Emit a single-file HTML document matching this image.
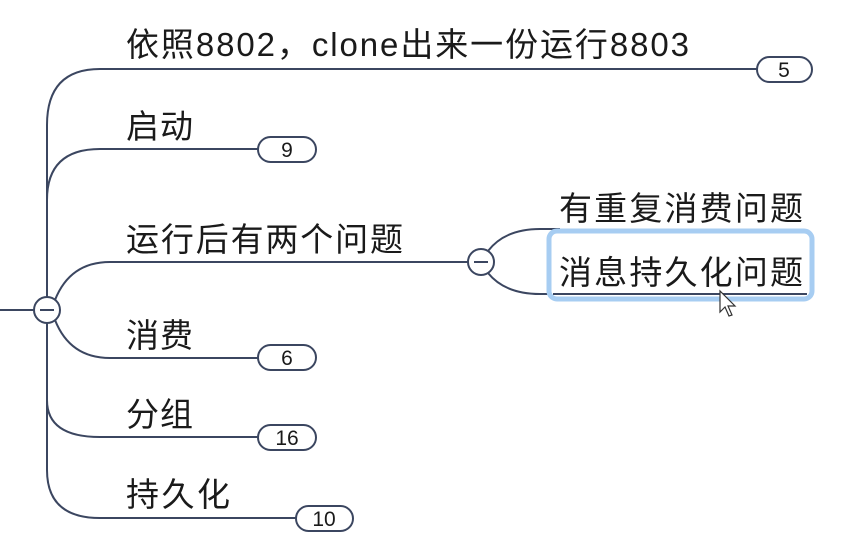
<!DOCTYPE html>
<html><head><meta charset="utf-8">
<style>
html,body{margin:0;padding:0;background:#fff;width:860px;height:557px;overflow:hidden}
svg text{font-family:"Liberation Sans","Noto Sans CJK SC",sans-serif;fill:#1a1a1a}
</style></head><body>
<svg width="860" height="557" viewBox="0 0 860 557" xmlns="http://www.w3.org/2000/svg">
<g fill="none" stroke="#3b4660" stroke-width="2">
  <path d="M120 69 L100 69 Q47 69 47 125 L47 470 Q47 518 100 518 L300 518"/>
  <path d="M0 310 L34 310"/>
  <path d="M100 69 L757 69"/>
  <path d="M47 200 Q47 149 100 149 L258 149"/>
  <path d="M47 400 Q47 437 100 437 L258 437"/>
  <path d="M55 300 Q70 262 110 262 L468 262"/>
  <path d="M55 320 Q70 358 110 358 L258 358"/>
  <rect x="757" y="57" width="55" height="25" rx="12.5" fill="#fff"/>
  <rect x="258" y="137" width="58" height="25" rx="12.5" fill="#fff"/>
  <rect x="258" y="345" width="58" height="25" rx="12.5" fill="#fff"/>
  <rect x="258" y="425" width="58" height="25" rx="12.5" fill="#fff"/>
  <rect x="296" y="506" width="57" height="25" rx="12.5" fill="#fff"/>
  <path d="M488 251 Q505 229 540 229 L560 229"/>
  <path d="M488 273 Q505 294 540 294 L560 294"/>
</g>
<rect x="549" y="231" width="263" height="68" rx="8" fill="#fff" stroke="#a7cdf2" stroke-width="5"/>
<line x1="553" y1="294" x2="807" y2="294" stroke="#3b4660" stroke-width="2"/>
<circle cx="47" cy="310" r="13" fill="#fff" stroke="#3b4660" stroke-width="2"/>
<line x1="40" y1="310" x2="54" y2="310" stroke="#3b4660" stroke-width="2"/>
<circle cx="481" cy="262" r="13" fill="#fff" stroke="#3b4660" stroke-width="2"/>
<line x1="474" y1="262" x2="488" y2="262" stroke="#3b4660" stroke-width="2"/>
<g font-size="33">
<text x="126" y="56" textLength="563" lengthAdjust="spacing">依照8802，clone出来一份运行8803</text>
<text x="126" y="138" textLength="67" lengthAdjust="spacing">启动</text>
<text x="126" y="251" textLength="277" lengthAdjust="spacing">运行后有两个问题</text>
<text x="126" y="347" textLength="67" lengthAdjust="spacing">消费</text>
<text x="126" y="426" textLength="67" lengthAdjust="spacing">分组</text>
<text x="126" y="506" textLength="104" lengthAdjust="spacing">持久化</text>
<text x="559" y="220" textLength="244" lengthAdjust="spacing">有重复消费问题</text>
<text x="559" y="284" textLength="244" lengthAdjust="spacing">消息持久化问题</text>
</g>
<g font-size="21" text-anchor="middle">
<text x="784" y="77">5</text>
<text x="287" y="157">9</text>
<text x="287" y="365">6</text>
<text x="287" y="445">16</text>
<text x="324" y="526">10</text>
</g>
<path d="M720 291 L720 312 L725 307 L729 316 L732 315 L728 306 L735 306 Z" fill="#fff" stroke="#333" stroke-width="1.2"/>
</svg>
</body></html>
